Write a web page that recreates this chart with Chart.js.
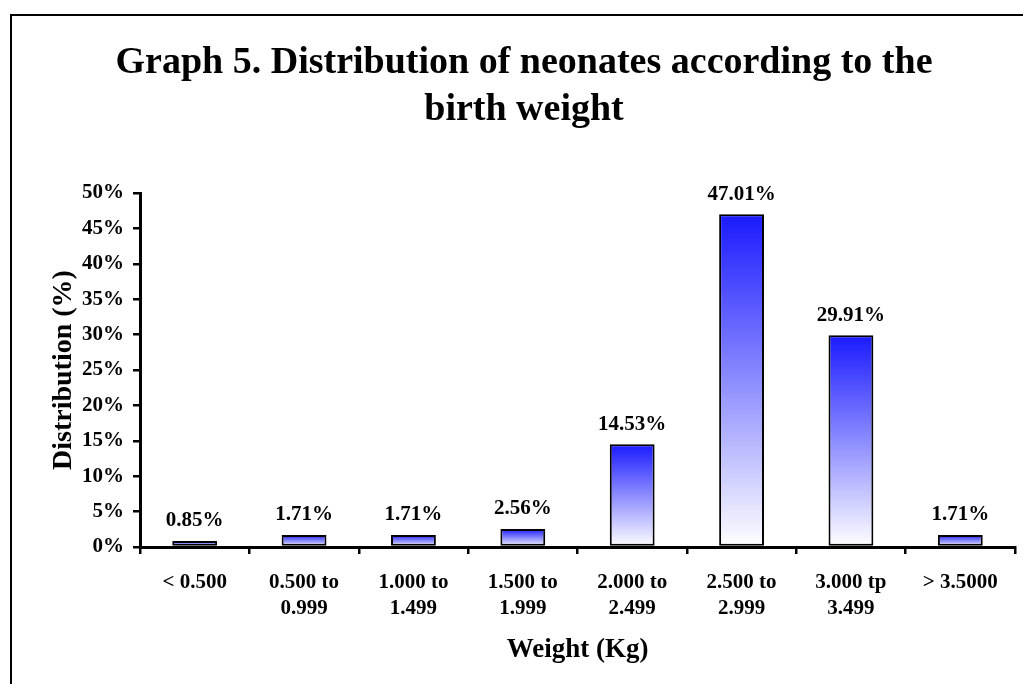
<!DOCTYPE html>
<html>
<head>
<meta charset="utf-8">
<title>Graph 5</title>
<script src="https://cdn.jsdelivr.net/npm/chart.js@4/dist/chart.umd.min.js"></script>
<style>
  html, body { margin: 0; padding: 0; background: #fff; overflow: hidden; }
  canvas { display: block; }
</style>
</head>
<body>
<canvas id="weightChart" width="1023" height="684"></canvas>
<script>
const weightClasses = [
  "< 0.500",
  ["0.500 to", "0.999"],
  ["1.000 to", "1.499"],
  ["1.500 to", "1.999"],
  ["2.000 to", "2.499"],
  ["2.500 to", "2.999"],
  ["3.000 tp", "3.499"],
  "> 3.5000"
];
const distribution = [0.85, 1.71, 1.71, 2.56, 14.53, 47.01, 29.91, 1.71];
const titleLines = ["Graph 5. Distribution of neonates according to the", "birth weight"];
const yTitle = "Distribution (%)";
const xTitle = "Weight (Kg)";

Chart.defaults.font.family = "'Liberation Serif', 'Times New Roman', serif";
Chart.defaults.font.weight = "bold";
Chart.defaults.color = "#000";

// Fondo y marco del grafico (solo bordes izquierdo y superior son visibles)
const framePlugin = {
  id: "frame",
  beforeDraw(chart) {
    const ctx = chart.ctx;
    ctx.save();
    ctx.fillStyle = "#fff";
    ctx.fillRect(0, 0, chart.width, chart.height);
    ctx.fillStyle = "#000";
    ctx.fillRect(10, 14, 2, chart.height);
    ctx.fillRect(10, 14, chart.width, 2);
    ctx.restore();
  }
};

// Etiquetas de porcentaje encima de cada barra
const valueLabels = {
  id: "valueLabels",
  afterDatasetsDraw(chart) {
    const ctx = chart.ctx;
    const meta = chart.getDatasetMeta(0);
    ctx.save();
    ctx.font = "bold 21px 'Liberation Serif', serif";
    ctx.fillStyle = "#000";
    ctx.textAlign = "center";
    ctx.textBaseline = "middle";
    meta.data.forEach((bar, i) => {
      ctx.fillText(distribution[i].toFixed(2) + "%", bar.x, bar.y - 20);
    });
    ctx.restore();
  }
};

function barGradient(context) {
  if (context.type !== "data") return "#4040ff";
  const chart = context.chart;
  if (!chart.chartArea) return "#4040ff";
  const y = chart.scales.y;
  const top = y.getPixelForValue(context.raw);
  const bottom = y.getPixelForValue(0);
  const g = chart.ctx.createLinearGradient(0, top, 0, bottom);
  g.addColorStop(0, "#1a1aff");
  g.addColorStop(1, "#ffffff");
  return g;
}

new Chart(document.getElementById("weightChart"), {
  type: "bar",
  data: {
    labels: weightClasses,
    datasets: [{
      data: distribution,
      backgroundColor: barGradient,
      borderColor: "#000",
      borderWidth: 2,
      borderSkipped: false,
      barPercentage: 0.41,
      categoryPercentage: 1
    }]
  },
  options: {
    responsive: false,
    animation: false,
    layout: { padding: { left: 33, right: 8, top: 0, bottom: 0 } },
    plugins: {
      legend: { display: false },
      tooltip: { enabled: false },
      title: {
        display: true,
        text: titleLines,
        font: { size: 38, weight: "bold", lineHeight: 1.237 },
        color: "#000",
        padding: { top: 39.5, bottom: 59.5 }
      }
    },
    scales: {
      x: {
        grid: { drawOnChartArea: false, color: "#000", lineWidth: 2.5, tickLength: 7, offset: true },
        border: { color: "#000", width: 3 },
        ticks: { font: { size: 21, lineHeight: 1.25 }, padding: 15, maxRotation: 0, autoSkip: false },
        title: { display: true, text: xTitle, font: { size: 27, lineHeight: 1.2 }, padding: { top: 0, bottom: 18 } },
        afterFit(scale) { scale.height = 137; }
      },
      y: {
        min: 0,
        max: 50,
        grid: { drawOnChartArea: false, color: "#000", lineWidth: 2.5, tickLength: 7 },
        border: { color: "#000", width: 3 },
        ticks: { stepSize: 5, font: { size: 21 }, padding: 9, callback: v => v + "%" },
        title: { display: true, text: yTitle, font: { size: 28, lineHeight: 1.2 }, padding: { top: 14, bottom: 0 } },
        afterFit(scale) { scale.width = 107; }
      }
    }
  },
  plugins: [framePlugin, valueLabels]
});
</script>
</body>
</html>
